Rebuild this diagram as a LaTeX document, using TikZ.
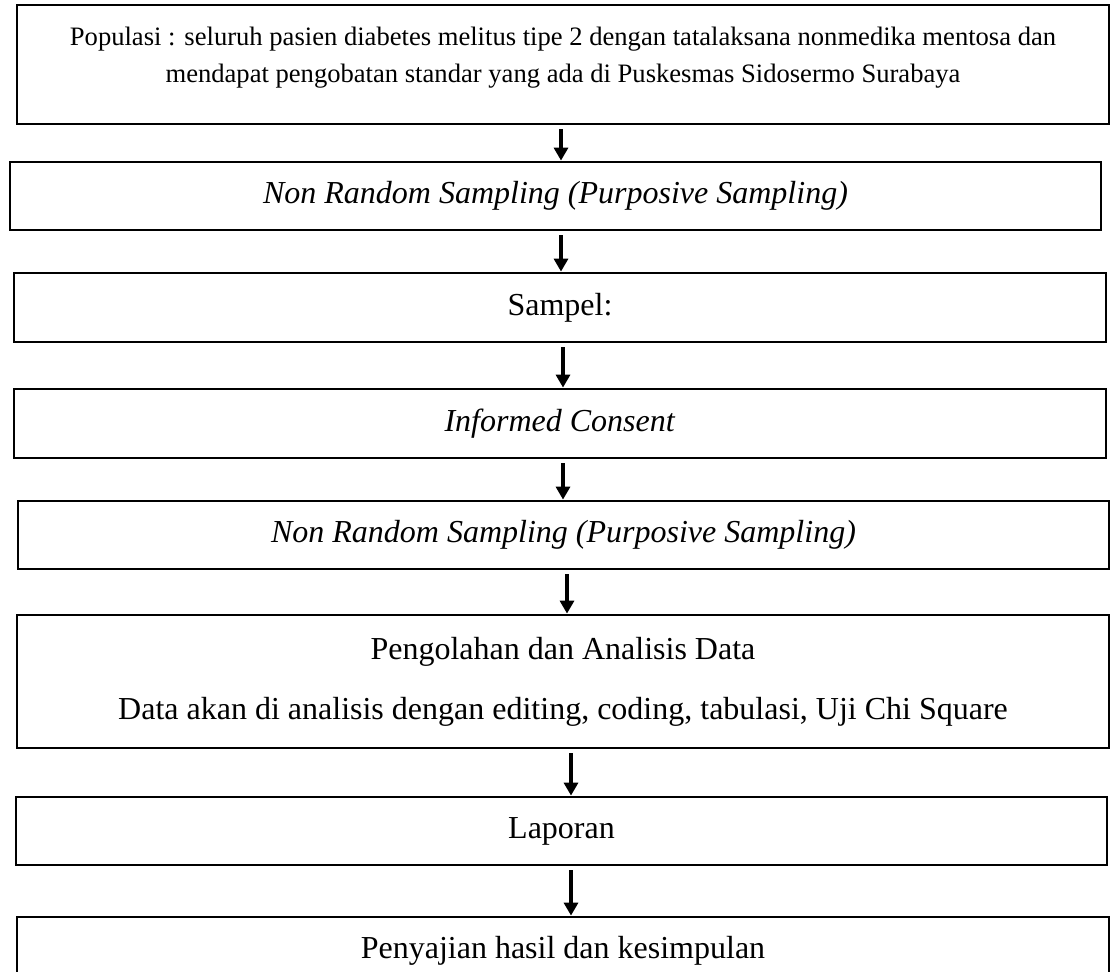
\documentclass[tikz,border=0pt]{standalone}
\usepackage{fontspec}
\setmainfont{Liberation Serif}
\usetikzlibrary{arrows.meta}

\begin{document}
\begin{tikzpicture}[
    x=0.5pt, y=-0.5pt,
    box/.style={draw, line width=1.4pt, minimum width=546pt, minimum height=34pt, align=center, inner sep=0pt, font=\fontsize{16}{19}\selectfont},
    arr/.style={-{Triangle[length=6.5pt, width=7pt]}, line width=1.6pt, shorten <=2pt}
]
\clip (0,0) rectangle (1113,972);
\node[box, minimum height=59.5pt, font=\fontsize{13.3}{18.5}\selectfont, text depth=10pt] (pop) at (563,64.5) {Populasi : seluruh pasien diabetes melitus tipe 2 dengan tatalaksana nonmedika mentosa dan\\mendapat pengobatan standar yang ada di Puskesmas Sidosermo Surabaya};
\node[box, minimum width=545.5pt] (nrs1) at (555.5,196) {\textit{Non Random Sampling (Purposive Sampling)}};
\node[box, minimum height=34.5pt] (sampel) at (560,307.5) {Sampel:};
\node[box, minimum height=34.5pt] (consent) at (560,423.5) {\textit{Informed Consent}};
\node[box, minimum width=545.5pt] (nrs2) at (563.5,535) {\textit{Non Random Sampling (Purposive Sampling)}};
\node[box, minimum height=66.5pt] (olah) at (563,681.5) {Pengolahan dan Analisis Data\\[11pt]Data akan di analisis dengan editing, coding, tabulasi, Uji Chi Square};
\node[box, minimum width=545.5pt] (lapor) at (561.5,831) {Laporan};
\node[box] (saji) at (563,951) {Penyajian hasil dan kesimpulan};

% panah antar tahap
\foreach \a/\b/\px in {pop/nrs1/561, nrs1/sampel/561, sampel/consent/563, consent/nrs2/563, nrs2/olah/567, olah/lapor/571, lapor/saji/571}
    \draw[arr] (\a.south -| \px,0) -- (\b.north -| \px,0);
\end{tikzpicture}
\end{document}
